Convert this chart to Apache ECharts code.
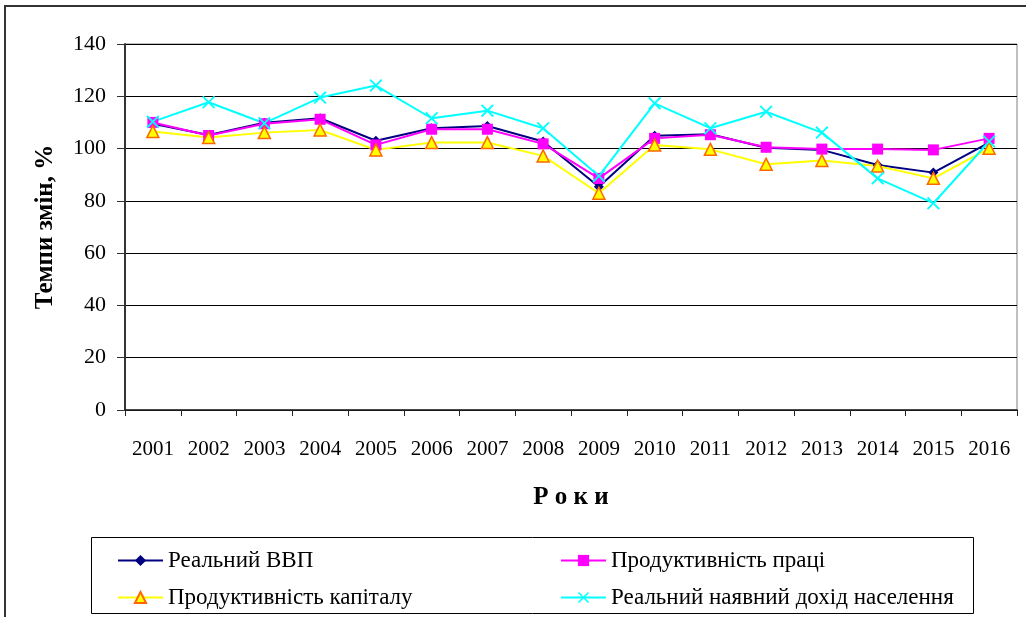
<!DOCTYPE html>
<html>
<head>
<meta charset="utf-8">
<script src="https://cdn.jsdelivr.net/npm/echarts@6/dist/echarts.min.js"></script>
<style>
  html, body { margin: 0; padding: 0; background: #fff; }
  #chart { width: 1026px; height: 617px; }
</style>
</head>
<body>
<div id="chart"></div>
<script>
var years = ['2001', '2002', '2003', '2004', '2005', '2006', '2007', '2008',
             '2009', '2010', '2011', '2012', '2013', '2014', '2015', '2016'];
var realGdp = [109.5, 105.2, 109.9, 111.6, 103.0, 107.8, 108.6, 102.7,
               85.4, 104.9, 105.5, 100.3, 99.5, 93.7, 90.8, 102.3];
var labourProd = [110.0, 105.0, 109.5, 111.2, 101.4, 107.4, 107.4, 101.8,
                  88.6, 103.9, 105.3, 100.5, 99.8, 99.8, 99.5, 103.9];
var capitalProd = [106.5, 104.2, 106.1, 107.1, 99.5, 102.3, 102.3, 97.2,
                   82.9, 101.4, 99.7, 94.0, 95.4, 93.3, 88.6, 100.1];
var realIncome = [110.3, 117.7, 109.7, 119.5, 124.1, 111.6, 114.5, 107.8,
                  89.5, 117.3, 107.8, 114.1, 106.1, 88.6, 79.1, 102.7];
var seriesNames = ['Реальний ВВП', 'Продуктивність праці',
                   'Продуктивність капіталу', 'Реальний наявний дохід населення'];

var serif = "'Liberation Serif', 'Times New Roman', serif";
var crossIcon = 'path://M0,1 L1,0 L5,4 L9,0 L10,1 L6,5 L10,9 L9,10 L5,6 L1,10 L0,9 L4,5 Z';

// one legend per entry so the two columns line up like the original
function legendAt(name, left, top) {
    return {
        left: left,
        top: top,
        itemWidth: 45,
        itemHeight: 14,
        itemGap: 0,
        textStyle: { fontFamily: serif, fontSize: 23, color: '#000' },
        data: [name]
    };
}

var myChart = echarts.init(document.getElementById('chart'));

var option = {
    backgroundColor: '#fff',
    animation: false,
    grid: {
        left: 125,
        right: 9,
        top: 44,
        bottom: 207,
        show: true,
        borderColor: '#808080',
        borderWidth: 1
    },
    graphic: [
        {
            type: 'rect',
            shape: { x: 5, y: 6, width: 1040, height: 640 },
            style: { fill: 'none', stroke: '#333', lineWidth: 2 },
            silent: true
        },
        {
            type: 'rect',
            shape: { x: 91.5, y: 537.5, width: 882, height: 76 },
            style: { fill: 'none', stroke: '#000', lineWidth: 1 },
            silent: true
        }
    ],
    legend: [
        legendAt(seriesNames[0], 112, 544),
        legendAt(seriesNames[2], 112, 581),
        legendAt(seriesNames[1], 555, 544),
        legendAt(seriesNames[3], 555, 581)
    ],
    xAxis: {
        type: 'category',
        data: years,
        boundaryGap: true,
        name: 'Р о к и',
        nameLocation: 'middle',
        nameGap: 75,
        nameTextStyle: { fontFamily: serif, fontSize: 25, fontWeight: 'bold', color: '#000' },
        axisLine: { lineStyle: { color: '#222', width: 1.5 } },
        axisTick: { show: true, length: 6, lineStyle: { color: '#222' } },
        axisLabel: { fontFamily: serif, fontSize: 21, color: '#000', margin: 29 }
    },
    yAxis: {
        type: 'value',
        min: 0,
        max: 140,
        interval: 20,
        name: 'Темпи змін, %',
        nameLocation: 'middle',
        nameGap: 67,
        nameTextStyle: { fontFamily: serif, fontSize: 25, fontWeight: 'bold', color: '#000' },
        axisLine: { show: true, lineStyle: { color: '#333', width: 2 } },
        axisTick: { show: true, length: 8, lineStyle: { color: '#333' } },
        axisLabel: { fontFamily: serif, fontSize: 22, color: '#000', margin: 19 },
        splitLine: { show: true, lineStyle: { color: '#000', width: 1 } }
    },
    series: [
        {
            name: seriesNames[0],
            type: 'line',
            data: realGdp,
            symbol: 'diamond',
            symbolSize: 10,
            lineStyle: { color: '#000080', width: 2 },
            itemStyle: { color: '#000080' }
        },
        {
            name: seriesNames[1],
            type: 'line',
            data: labourProd,
            symbol: 'rect',
            symbolSize: 11,
            lineStyle: { color: '#ff00ff', width: 2 },
            itemStyle: { color: '#ff00ff' }
        },
        {
            name: seriesNames[2],
            type: 'line',
            data: capitalProd,
            symbol: 'triangle',
            symbolSize: 12,
            lineStyle: { color: '#ffff00', width: 2 },
            itemStyle: { color: '#ffff00', borderColor: '#ff6600', borderWidth: 1.5 }
        },
        {
            name: seriesNames[3],
            type: 'line',
            data: realIncome,
            symbol: crossIcon,
            symbolSize: 13,
            lineStyle: { color: '#00ffff', width: 2 },
            itemStyle: { color: '#00ffff' }
        }
    ]
};

myChart.setOption(option);
</script>
</body>
</html>
